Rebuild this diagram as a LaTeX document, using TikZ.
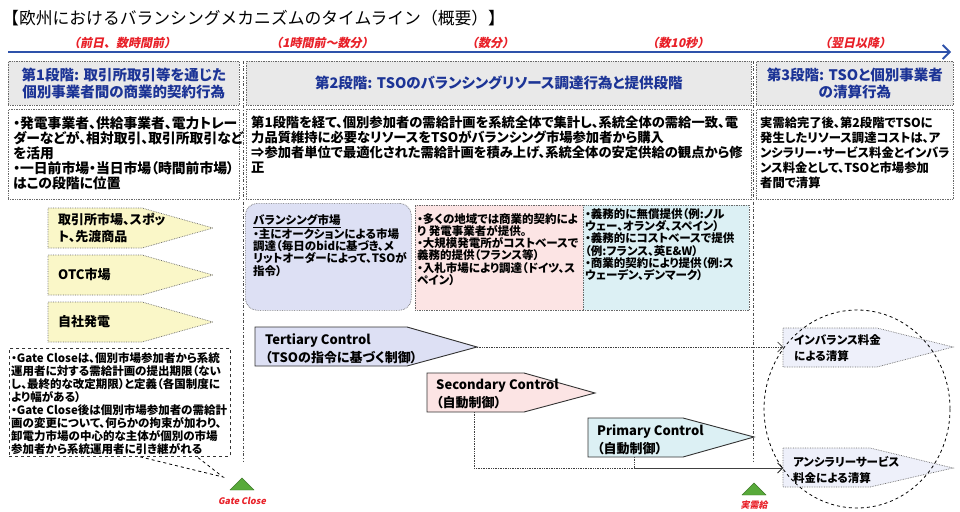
\documentclass[tikz,border=0pt]{standalone}
\usepackage{fontspec}
\setmainfont{Noto Sans CJK JP}[RawFeature=+palt]
\newfontfamily\titlejp{Noto Sans CJK JP}
\newfontfamily\slantjp{Noto Sans CJK JP}[FakeSlant=0.2]
\usetikzlibrary{arrows.meta}

\definecolor{timeblue}{RGB}{46,82,170}
\definecolor{stagered}{RGB}{232,32,40}
\definecolor{headblue}{RGB}{28,52,150}
\definecolor{headgray}{RGB}{233,233,233}
\definecolor{mktyellow}{RGB}{250,247,200}
\definecolor{tsolav}{RGB}{221,224,244}
\definecolor{secpink}{RGB}{252,228,228}
\definecolor{pricyan}{RGB}{220,240,244}
\definecolor{setllav}{RGB}{238,240,250}
\definecolor{markgreen}{RGB}{88,170,58}
\definecolor{edgegray}{RGB}{105,105,105}

\tikzset{
  dotbox/.style={draw=edgegray, densely dotted, line width=0.7pt},
  headbox/.style={dotbox, fill=headgray, anchor=north west, text=headblue, align=center,
    font=\fontsize{14.5}{17}\selectfont\bfseries},
  bodytext/.style={anchor=north west, inner sep=0pt, align=left, font=\fontsize{13.3}{15}\selectfont\bfseries},
  cardtext/.style={anchor=north west, inner sep=0pt, align=left, font=\fontsize{11.5}{12.3}\selectfont\bfseries},
  notetext/.style={anchor=north west, inner sep=0pt, align=left, font=\fontsize{11.5}{13.1}\selectfont\bfseries},
  plate/.style={draw=black!80, line width=0.9pt},
  platetext/.style={anchor=west, inner sep=0pt, align=left, font=\fontsize{13}{18}\selectfont\bfseries},
  settletext/.style={anchor=west, inner sep=0pt, align=left, font=\fontsize{11.5}{16}\selectfont\bfseries},
  stagelabel/.style={text=stagered, inner sep=0pt, font=\slantjp\fontsize{12}{14}\selectfont\bfseries},
  marklabel/.style={text=stagered, inner sep=0pt, font=\slantjp\fontsize{9}{10}\selectfont\bfseries},
  flow/.style={densely dotted, line width=0.7pt, draw=black!75, -{Straight Barb[length=5pt,width=10pt]}},
  divider/.style={dash dot, line width=0.6pt, draw=black!70},
  gcmark/.style={fill=markgreen, draw=markgreen!70!black, line width=0.4pt},
}

\begin{document}
\begin{tikzpicture}[x=1pt,y=-1pt]
  \useasboundingbox (0,0) rectangle (960,511);
  % title and time axis
  \node[anchor=west, inner sep=0pt, font=\titlejp\fontsize{16.8}{18}\selectfont] (title) at (2,18)
    {【欧州におけるバランシングメカニズムのタイムライン（概要）】};
  \node[stagelabel] (p1) at (122,43) {（前日、数時間前）};
  \node[stagelabel] (p2) at (322,43) {（1時間前～数分）};
  \node[stagelabel] (p3) at (490,43) {（数分）};
  \node[stagelabel] (p4) at (678,43) {（数10秒）};
  \node[stagelabel] (p5) at (855,43) {（翌日以降）};
  \coordinate (ax0) at (8,52);
  \coordinate (ax1) at (951,52);
  \draw[timeblue, line width=1.8pt, -{Straight Barb[length=7pt,width=14pt]}] (ax0) -- (ax1);

  % stage headers and descriptions
  \node[headbox, minimum width=231, minimum height=44] (h1) at (8,61)
    {第1段階: 取引所取引等を通じた\\個別事業者間の商業的契約行為};
  \node[headbox, minimum width=505, minimum height=44] (h2) at (246,61)
    {第2段階: TSOのバランシングリソース調達行為と提供段階};
  \node[headbox, minimum width=197, minimum height=44] (h3) at (756,61)
    {第3段階: TSOと個別事業者\\の清算行為};
  \node[dotbox, anchor=north west, minimum width=231, minimum height=90] (d1) at (8,109) {};
  \node[dotbox, anchor=north west, minimum width=505, minimum height=90] (d2) at (246,109) {};
  \node[dotbox, anchor=north west, minimum width=197, minimum height=90] (d3) at (756,109) {};
  \node[bodytext, font=\fontsize{13.8}{15}\selectfont\bfseries] (d1t) at ([shift={(5,7)}]d1.north west)
    {・発電事業者、供給事業者、電力トレー\\ダーなどが、相対取引、取引所取引など\\を活用\\・一日前市場・当日市場（時間前市場）\\はこの段階に位置};
  \node[bodytext] (d2t) at ([shift={(5,7)}]d2.north west)
    {第1段階を経て、個別参加者の需給計画を系統全体で集計し、系統全体の需給一致、電\\力品質維持に必要なリソースをTSOがバランシング市場参加者から購入\\⇒参加者単位で最適化された需給計画を積み上げ、系統全体の安定供給の観点から修\\正};
  \node[bodytext, font=\fontsize{12.3}{15}\selectfont\bfseries] (d3t) at ([shift={(4,8)}]d3.north west)
    {実需給完了後、第2段階でTSOに\\発生したリソース調達コストは、ア\\ンシラリー・サービス料金とインバラ\\ンス料金として、TSOと市場参加\\者間で清算};

  % Gate Close and real-time dividers
  \coordinate (gc0) at (243,61);
  \coordinate (gc1) at (243,462);
  \coordinate (rt0) at (753,61);
  \coordinate (rt1) at (753,462);
  \draw[divider] (gc0) -- (gc1);
  \draw[divider] (rt0) -- (rt1);

  % markets of stage 1
  \foreach \y/\txt [count=\i] in {208/{取引所市場、スポッ\\ト、先渡商品}, 255/{OTC市場}, 302/{自社発電}} {
    \draw[dotbox, fill=mktyellow] (48,\y) -- (142,\y) -- (213,\y+20) -- (142,\y+40) -- (48,\y+40) -- cycle;
    \node[platetext, font=\fontsize{13}{17}\selectfont\bfseries] (mkt\i) at (58,\y+20) {\txt};
  }

  % resources of stage 2
  \node[dotbox, fill=tsolav, rounded corners=12pt, anchor=north west, minimum width=166, minimum height=107] (bal) at (245,203) {};
  \node[cardtext] (balt) at ([shift={(8,11)}]bal.north west)
    {\underline{バランシング市場}\\・主にオークションによる市場\\調達（毎日のbidに基づき、メ\\リットオーダーによって、TSOが\\指令）};
  \node[dotbox, fill=secpink, anchor=north west, minimum width=168, minimum height=105] (pk) at (415,205) {};
  \node[cardtext] (pkt) at ([shift={(2,8)}]pk.north west)
    {・多くの地域では商業的契約によ\\り 発電事業者が提供。\\・大規模発電所がコストベースで\\義務的提供（フランス等）\\・入札市場により調達（ドイツ、ス\\ペイン）};
  \node[dotbox, fill=pricyan, anchor=north west, minimum width=166, minimum height=105] (cy) at (583,205) {};
  \node[cardtext] (cyt) at ([shift={(2,3)}]cy.north west)
    {・義務的に無償提供（例:ノル\\ウェー、オランダ、スペイン）\\・義務的にコストベースで提供\\（例:フランス、英E\&W）\\・商業的契約により提供（例:ス\\ウェーデン、デンマーク）};

  % control stages
  \draw[plate, fill=tsolav] (255,327) -- (407,327) -- (477,347) -- (407,366) -- (255,366) -- cycle;
  \coordinate (tert) at (477,347);
  \node[platetext] (tertt) at (265,349) {Tertiary Control\\（TSOの指令に基づく制御）};
  \draw[plate, fill=secpink] (427,373) -- (524,373) -- (595,393) -- (524,412) -- (427,412) -- cycle;
  \coordinate (secb) at (474,412);
  \node[platetext] (sect) at (436,394) {Secondary Control\\（自動制御）};
  \draw[plate, fill=pricyan] (588,418) -- (683,418) -- (754,437) -- (683,457) -- (588,457) -- cycle;
  \coordinate (prib) at (634,457);
  \node[platetext] (prit) at (597,440) {Primary Control\\（自動制御）};

  % settlement of stage 3
  \draw[dotbox, fill=setllav] (783,328) -- (877,328) -- (953,347) -- (877,367) -- (783,367) -- cycle;
  \coordinate (imb) at (783,347);
  \node[settletext] (imbt) at (794,348) {インバランス料金\\による清算};
  \draw[dotbox, fill=setllav] (783,448) -- (870,448) -- (953,468) -- (870,487) -- (783,487) -- cycle;
  \coordinate (anc) at (783,468);
  \node[settletext] (anct) at (793,470) {アンシラリーサービス\\料金による清算};
  \draw[flow] (tert) -- (imb);
  \draw[flow] (secb) |- (anc);
  \draw[flow] (prib) |- (anc);
  \draw[dashed, line width=0.8pt] (857,409) ellipse [x radius=93, y radius=99];

  % gate close note
  \node[draw=black!80, dashed, line width=0.8pt, fill=white, anchor=north west, minimum width=221, minimum height=108] (note) at (9,348) {};
  \node[notetext] (notet) at ([shift={(2,4)}]note.north west)
    {・Gate Closeは、個別市場参加者から系統\\運用者に対する需給計画の提出期限（ない\\し、最終的な改定期限）と定義（各国制度に\\より幅がある）\\・Gate Close後は個別市場参加者の需給計\\画の変更について、何らかの拘束が加わり、\\卸電力市場の中心的な主体が個別の市場\\参加者から系統運用者に引き継がれる};
  \coordinate (gcpt) at (223,477);
  \draw[dashed, line width=0.8pt] ([shift={(131,0)}]note.south west) -- (gcpt) -- ([shift={(188,0)}]note.south west);
  \draw[gcmark] (230,490) -- (254,490) -- (242,478) -- cycle;
  \node[marklabel] (gclab) at (242,501) {Gate Close};
  \draw[gcmark] (742,495) -- (766,495) -- (754,483) -- cycle;
  \node[marklabel] (rtlab) at (754,505) {実需給};
\end{tikzpicture}
\end{document}
